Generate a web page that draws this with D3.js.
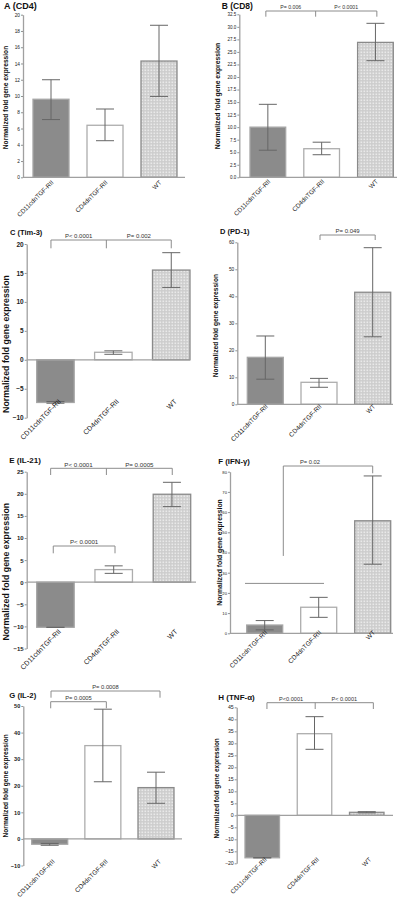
<!DOCTYPE html>
<html><head><meta charset="utf-8">
<script src="https://cdn.jsdelivr.net/npm/d3@7"></script>
<style>body{margin:0;background:#fff}svg{display:block}text{font-family:"Liberation Sans",Arial,sans-serif}</style>
</head><body><svg id="c" width="403" height="903"></svg>
<script>
// ---------- data ----------
const categories = ["CD11cdnTGF-RII", "CD4dnTGF-RII", "WT"];
const panelTitles = ["A (CD4)", "B (CD8)", "C (Tim-3)", "D (PD-1)", "E (IL-21)", "F (IFN-\u03b3)", "G (IL-2)", "H (TNF-\u03b1)"];
const yAxisLabel = "Normalized fold gene expression";

const meanCD4 = [9.6, 6.4, 14.3];
const lowCD4 = [7.1, 4.5, 9.95];
const highCD4 = [12.0, 8.4, 18.7];
const ticksCD4 = [0, 2, 4, 6, 8, 10, 12, 14, 16, 18, 20];

const meanCD8 = [10.0, 5.7, 26.9];
const lowCD8 = [5.4, 4.5, 23.25];
const highCD8 = [14.55, 7.0, 30.7];
const ticksCD8 = [0, 2.5, 5, 7.5, 10, 12.5, 15, 17.5, 20, 22.5, 25, 27.5, 30, 32.5];

const meanTim3 = [-7.37, 1.3, 15.5];
const lowTim3 = [-7.5, 0.95, 12.5];
const highTim3 = [-7.2, 1.55, 18.5];
const ticksTim3 = [-10, -5, 0, 5, 10, 15, 20];

const meanPD1 = [17.4, 8.15, 41.5];
const lowPD1 = [9.3, 6.3, 25.0];
const highPD1 = [25.3, 9.6, 58.0];
const ticksPD1 = [0, 10, 20, 30, 40, 50, 60];

const meanIL21 = [-10.2, 2.85, 19.9];
const lowIL21 = [-10.2, 2.0, 17.1];
const highIL21 = [-10.2, 3.7, 22.6];
const ticksIL21 = [-15, -10, -5, 0, 5, 10, 15, 20, 25];

const meanIFNg = [4.1, 12.9, 55.7];
const lowIFNg = [1.7, 7.9, 34.2];
const highIFNg = [6.3, 17.8, 77.9];
const ticksIFNg = [0, 10, 20, 30, 40, 50, 60, 70, 80];

const meanIL2 = [-2.0, 35.1, 19.3];
const lowIL2 = [-2.4, 21.5, 13.4];
const highIL2 = [-1.7, 48.8, 25.1];
const ticksIL2 = [-10, 0, 10, 20, 30, 40, 50];

const meanTNFa = [-17.7, 34.0, 1.25];
const lowTNFa = [-17.7, 27.5, 1.0];
const highTNFa = [-17.7, 41.1, 1.5];
const ticksTNFa = [-20, -15, -10, -5, 0, 5, 10, 15, 20, 25, 30, 35, 40, 45];

const pLabelsCD8 = ["P= 0.006", "P< 0.0001"];
const pLabelsTim3 = ["P< 0.0001", "P= 0.002"];
const pLabelsPD1 = ["P= 0.049"];
const pLabelsIL21 = ["P< 0.0001", "P= 0.0005"];
const pLabelsIL21low = ["P< 0.0001"];
const pLabelsIFNg = ["P= 0.02"];
const pLabelsIL2upper = ["P= 0.0008"];
const pLabelsIL2lower = ["P= 0.0005"];
const pLabelsTNFa = ["P<0.0001", "P< 0.0001"];

// ---------- layout ----------
const panels = [
  {title: panelTitles[0], mean: meanCD4, low: lowCD4, high: highCD4, ticks: ticksCD4, fmt: d3.format("d"),
   L: {ax: 23, axEnd: 185, barL: 33, barR: 177, bw: 36, yb: 177.3, yt: 14.7, tx: 4, ty: 8.5, ts: 9, tick: 4.8, tickB: false,
       lx: 6, ly: 97.5, ls: 6.6, xly: 183, xls: 6.3, xlx: 3}, brackets: []},
  {title: panelTitles[1], mean: meanCD8, low: lowCD8, high: highCD8, ticks: ticksCD8, fmt: d3.format(".1f"),
   L: {ax: 239.3, axEnd: 397, barL: 250, barR: 393.3, bw: 35.7, yb: 177.3, yt: 14.3, tx: 221.7, ty: 9, ts: 8.5, tick: 4.5, tickB: false,
       lx: 217.3, ly: 96, ls: 6.8, xly: 182, xls: 6.3, xlx: 3},
   brackets: [{idx: [0, 1, 2], dx: [-2, -6, 1.4], y: 11, drop: 16.7, labels: pLabelsCD8, ps: 5.2}]},
  {title: panelTitles[2], mean: meanTim3, low: lowTim3, high: highTim3, ticks: ticksTim3, fmt: d3.format("d"),
   L: {ax: 26.7, axEnd: 190, barL: 36.7, barR: 190, bw: 37.5, yb: 417.7, yt: 244, tx: 10, ty: 234.7, ts: 7.5, tick: 6.5, tickB: true,
       lx: 6, ly: 344, ls: 8.8, xly: 402, xls: 7, xlx: 6},
   brackets: [{idx: [0, 1, 2], dx: [-4.5, -7, 0], y: 240, drop: 248.3, labels: pLabelsTim3, ps: 6}]},
  {title: panelTitles[3], mean: meanPD1, low: lowPD1, high: highPD1, ticks: ticksPD1, fmt: d3.format("d"),
   L: {ax: 237.3, axEnd: 393, barL: 247.3, barR: 390.7, bw: 36, yb: 404.3, yt: 242.3, tx: 220, ty: 234, ts: 7.5, tick: 4.8, tickB: false,
       lx: 216, ly: 325.7, ls: 6.6, xly: 407, xls: 6.4, xlx: 3},
   brackets: [{idx: [1, 2], dx: [1, 2.5], y: 235, drop: 240, labels: pLabelsPD1, ps: 6}]},
  {title: panelTitles[4], mean: meanIL21, low: lowIL21, high: highIL21, ticks: ticksIL21, fmt: d3.format("d"),
   L: {ax: 26.7, axEnd: 196, barL: 36.7, barR: 190.7, bw: 37.5, yb: 648.5, yt: 471.7, tx: 9.3, ty: 462.7, ts: 8, tick: 6, tickB: true,
       lx: 6, ly: 571.7, ls: 8.8, xly: 632, xls: 7, xlx: 6},
   brackets: [{idx: [0, 1, 2], dx: [-4.8, -7.3, 0.3], y: 468.3, drop: 475, labels: pLabelsIL21, ps: 6.2},
              {idx: [0, 1], dx: [-2.2, 1.3], y: 546, drop: 553.3, labels: pLabelsIL21low, ps: 6.2}]},
  {title: panelTitles[5], mean: meanIFNg, low: lowIFNg, high: highIFNg, ticks: ticksIFNg, fmt: d3.format("d"),
   L: {ax: 230, axEnd: 393, barL: 246.7, barR: 390.7, bw: 36, yb: 633.3, yt: 471.7, tx: 218.3, ty: 463.5, ts: 7.8, tick: 4.2, tickB: false,
       lx: 219.5, ly: 552.5, ls: 6.8, xly: 633, xls: 6.5, xlx: 3},
   brackets: [], custom: true},
  {title: panelTitles[6], mean: meanIL2, low: lowIL2, high: highIL2, ticks: ticksIL2, fmt: d3.format("d"),
   L: {ax: 23.3, axEnd: 182, barL: 31.7, barR: 174, bw: 36, yb: 865.5, yt: 706, tx: 9.3, ty: 698, ts: 7.7, tick: 5.6, tickB: true,
       lx: 6, ly: 785.8, ls: 6.6, xly: 862, xls: 6.5, xlx: 5.5},
   brackets: [{idx: [0, 2], dx: [1.3, 4], y: 691, drop: 697.7, labels: pLabelsIL2upper, ps: 5.8},
              {idx: [0, 1], dx: [1, 3.5], y: 701.7, drop: 708.3, labels: pLabelsIL2lower, ps: 5.8}]},
  {title: panelTitles[7], mean: meanTNFa, low: lowTNFa, high: highTNFa, ticks: ticksTNFa, fmt: d3.format("d"),
   L: {ax: 236.7, axEnd: 393, barL: 245, barR: 384, bw: 34.5, yb: 863.3, yt: 707.3, tx: 218.3, ty: 700, ts: 8, tick: 5.2, tickB: false,
       lx: 216.7, ly: 788.3, ls: 6.4, xly: 860, xls: 6.3, xlx: 5},
   brackets: [{idx: [0, 1, 2], dx: [4.7, 0.7, 6.6], y: 702.7, drop: 709, labels: pLabelsTNFa, ps: 5.6}]}
];

const svg = d3.select("#c");
const defs = svg.append("defs");
const pat = defs.append("pattern").attr("id", "dots").attr("patternUnits", "userSpaceOnUse")
  .attr("width", 3).attr("height", 3);
pat.append("rect").attr("width", 3).attr("height", 3).attr("fill", "#cdcdcd");
pat.append("rect").attr("x", 0.5).attr("y", 0.5).attr("width", 1.6).attr("height", 1.6).attr("fill", "#e9e9e9");

const fills = ["#8b8b8b", "#ffffff", "url(#dots)"];
const strokes = ["#a6a6a6", "#adadad", "#8a8a8a"];
const axisCol = "#a0a0a0", errCol = "#666666", brCol = "#8c8c8c";
const K = Math.SQRT1_2;

// diagonal (-45°) label whose baseline ends at (ex, ey); glyphs rotated and placed along the diagonal
function diagLabel(parent, str, ex, ey, size) {
  const t = parent.append("text").attr("font-size", size).attr("fill", "#222").attr("x", 0).attr("y", 0).text(str);
  const n = str.length;
  let adv = [], len = 0;
  try {
    const node = t.node();
    len = node.getComputedTextLength();
    for (let j = 0; j < n; j++) adv.push(node.getStartPositionOfChar(j).x);
  } catch (e) { adv = []; }
  if (!len || adv.length !== n || adv.some(v => !isFinite(v))) {
    adv = []; let acc = 0;
    for (let j = 0; j < n; j++) { adv.push(acc); acc += size * (/[A-Z]/.test(str[j]) ? 0.68 : (/[1I\-]/.test(str[j]) ? 0.4 : 0.55)); }
    len = acc;
  }
  const sx = ex - len * K, sy = ey + len * K;
  t.attr("x", adv.map(a => (sx + a * K).toFixed(2)).join(" "))
   .attr("y", adv.map(a => (sy - a * K).toFixed(2)).join(" "))
   .attr("rotate", "-45");
}

panels.forEach((p, pi) => {
  const L = p.L;
  const g = svg.append("g");
  const dom = [p.ticks[0], p.ticks[p.ticks.length - 1]];
  const y = d3.scaleLinear().domain(dom).range([L.yb, L.yt]);
  const step = (L.barR - L.barL - L.bw) / 2;
  const gap = step - L.bw;
  const pin = gap / step;
  const x = d3.scaleBand().domain(categories)
    .range([L.barL - gap / 2, L.barR + gap / 2]).paddingInner(pin).paddingOuter(pin / 2);
  const cx = i => x(categories[i]) + x.bandwidth() / 2;

  // title
  g.append("text").attr("x", L.tx).attr("y", L.ty).attr("font-size", L.ts).attr("font-weight", "bold")
    .attr("fill", "#111").text(p.title);

  // y axis
  const ax = g.append("g").attr("transform", `translate(${L.ax},0)`)
    .call(d3.axisLeft(y).tickValues(p.ticks).tickFormat(p.fmt).tickSize(2).tickSizeOuter(0).tickPadding(1));
  ax.select(".domain").attr("stroke", axisCol).attr("stroke-width", 1.3);
  ax.selectAll(".tick line").attr("stroke", "#777").attr("stroke-width", 0.8);
  ax.selectAll(".tick text").attr("font-size", L.tick).attr("font-weight", L.tickB ? "bold" : "normal")
    .attr("fill", "#222").attr("font-family", '"Liberation Sans",Arial,sans-serif');

  // y label
  g.append("text").attr("transform", `translate(${L.lx},${L.ly}) rotate(-90)`)
    .attr("text-anchor", "middle").attr("dy", "0.35em").attr("font-size", L.ls).attr("font-weight", "bold")
    .attr("fill", "#111").text(yAxisLabel);

  // bars
  g.selectAll("rect.bar").data(p.mean).join("rect").attr("class", "bar")
    .attr("x", (d, i) => x(categories[i])).attr("width", x.bandwidth())
    .attr("y", d => Math.min(y(d), y(0))).attr("height", d => Math.abs(y(d) - y(0)))
    .attr("fill", (d, i) => fills[i]).attr("stroke", (d, i) => strokes[i]).attr("stroke-width", 1.3);

  // x axis line at zero
  g.append("line").attr("x1", L.ax).attr("x2", L.axEnd).attr("y1", y(0)).attr("y2", y(0))
    .attr("stroke", axisCol).attr("stroke-width", 1.2);

  // error bars
  const cap = 9;
  p.mean.forEach((m, i) => {
    const c = cx(i);
    g.append("line").attr("x1", c).attr("x2", c).attr("y1", y(p.low[i])).attr("y2", y(p.high[i]))
      .attr("stroke", errCol).attr("stroke-width", 1);
    [p.low[i], p.high[i]].forEach(v => g.append("line").attr("x1", c - cap).attr("x2", c + cap)
      .attr("y1", y(v)).attr("y2", y(v)).attr("stroke", errCol).attr("stroke-width", 1));
  });

  // x labels at -45°
  categories.forEach((c, i) => diagLabel(g, c, cx(i) + L.xlx, L.xly, L.xls));

  // brackets
  p.brackets.forEach(b => {
    const xs = b.idx.map((k, j) => cx(k) + b.dx[j]);
    g.append("line").attr("x1", xs[0]).attr("x2", xs[xs.length - 1]).attr("y1", b.y).attr("y2", b.y)
      .attr("stroke", brCol).attr("stroke-width", 1);
    xs.forEach(xx => g.append("line").attr("x1", xx).attr("x2", xx).attr("y1", b.y).attr("y2", b.drop)
      .attr("stroke", brCol).attr("stroke-width", 1));
    b.labels.forEach((t, j) => {
      g.append("text").attr("x", (xs[j] + xs[j + 1]) / 2).attr("y", b.y - 1.8).attr("text-anchor", "middle")
        .attr("font-size", b.ps).attr("fill", "#333").text(t);
    });
  });

  if (p.custom) {
    // IFN-γ: grouped comparison line
    const hy = y(24.7);
    g.append("line").attr("x1", x(categories[0]) - 1.7).attr("x2", x(categories[1]) + x.bandwidth() - 12.7)
      .attr("y1", hy).attr("y2", hy).attr("stroke", brCol).attr("stroke-width", 1);
    const vx = x(categories[0]) + x.bandwidth() + 0.6;
    const topY = 466, x3 = cx(2);
    g.append("path").attr("d", `M${vx},${y(38.3)}V${topY}H${x3}V${topY + 7.3}`)
      .attr("fill", "none").attr("stroke", brCol).attr("stroke-width", 1);
    g.append("text").attr("x", 310).attr("y", topY - 1.8).attr("text-anchor", "middle")
      .attr("font-size", 5.8).attr("fill", "#333").text(pLabelsIFNg[0]);
  }
});
</script></body></html>
